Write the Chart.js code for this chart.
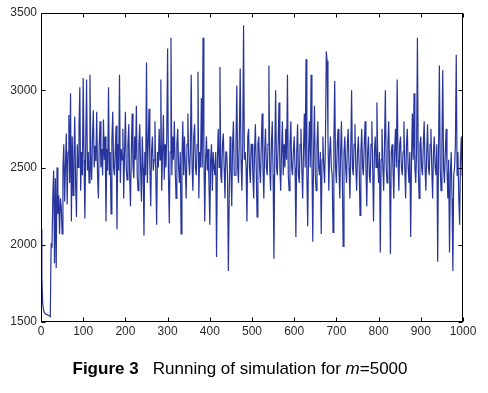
<!DOCTYPE html>
<html>
<head>
<meta charset="utf-8">
<script src="https://cdn.jsdelivr.net/npm/chart.js@4/dist/chart.umd.min.js"></script>
<style>
  html, body { margin: 0; padding: 0; background: #fff; }
  #wrap { position: relative; width: 488px; height: 393px; }
  #c { position: absolute; left: 0; top: 0; }
  #cap { position: absolute; left: -4px; top: 359px; width: 488px; text-align: center;
         font-family: 'Liberation Sans', Arial, sans-serif; font-size: 17px; line-height: 20px; color: #000; white-space: pre; }
</style>
</head>
<body>
<div id="wrap">
  <canvas id="c" width="488" height="393"></canvas>
  <div id="cap"><b>Figure 3</b>   Running of simulation for <i>m</i>=5000</div>
</div>
<script>
// Spacing (iterations) between the samples
const STEP = 2;
// Simulation values, x = 0, 2, 4, ... 1000 (each row = 20 iterations)
const values = [
  2100,1800,1620,1580,1560,1555,1550,1548,1545,1542,
  1540,1535,2010,1980,2320,2480,1880,2430,1850,2500,
  2200,2320,2070,2300,2250,2070,2500,2650,2280,2520,
  2720,2260,2600,2840,2400,2980,2150,2700,2320,2560,
  2830,2400,2180,2650,2500,2760,3020,2350,2600,2450,
  3080,2550,2170,2650,3070,2480,2600,2400,3100,2550,
  2420,2700,2870,2500,2640,2540,2860,2450,2300,2650,
  2800,2500,2620,2450,2810,2550,2700,2150,2620,2480,
  3020,2450,2600,2200,2680,2860,2500,2450,2620,2770,
  2100,2650,2480,3100,2400,2620,2550,2750,2300,2600,
  2860,2500,2420,2650,2780,2450,2250,2600,2850,2500,
  2430,2700,2550,2900,2450,2350,2650,2780,2500,2280,
  2700,2500,2060,2600,2450,3180,2400,2650,2880,2500,
  2250,2600,2700,2480,2550,2800,2450,2130,2600,2500,
  2750,2550,3070,2350,2600,2840,2420,2650,2500,2700,
  3270,2450,2140,2600,3340,2450,2700,2550,2800,2500,
  2300,2650,2750,2500,2400,2600,2070,2550,2800,2450,
  2700,2500,2300,2650,2850,2550,2450,2620,3100,2500,
  2350,2700,2780,2500,2450,2650,3120,2300,2600,2500,
  2950,2500,3340,2600,2150,2550,2700,2480,2620,2400,
  2130,2550,2650,2350,2600,2500,2450,2600,1920,2550,
  2750,2500,3150,2450,2400,2650,2720,2500,2300,2600,
  2600,2450,1830,2300,2700,2500,2250,2650,2800,2450,
  2450,2650,3030,2500,2400,2700,3140,2550,2350,2650,
  3420,2550,2600,2500,2150,2700,2750,2500,2400,2650,
  2650,2450,2300,2600,2780,2500,2180,2650,2700,2500,
  2400,2650,2850,2500,2300,2600,2750,2500,2450,2650,
  3160,2500,2350,2650,2800,2450,1910,2600,3000,2500,
  2450,2650,2920,2500,2350,2600,2800,2450,2650,2500,
  2750,2550,3100,2450,2350,2650,2800,2500,2450,2600,
  2700,2500,2050,2600,2780,2450,2400,2650,2750,2500,
  2300,2600,2850,2500,3200,2450,2120,2600,2800,2500,
  3100,2550,2020,2600,2900,2450,2350,2650,2800,2500,
  2450,2600,2070,2550,2700,2500,2400,2650,3250,3190,
  2700,2350,2600,2700,2500,2450,2080,2650,3060,2500,
  2400,2650,2750,2500,2300,2600,2800,2450,1990,2600,
  2700,2500,2400,2650,2750,2500,2300,2600,3000,2500,
  2450,2650,2780,2500,2350,2600,2700,2500,2190,2600,
  2750,2500,2450,2650,2800,2500,2250,2600,2700,2450,
  2400,2650,2800,2500,2150,2600,2700,2500,2920,2550,
  2400,2600,1950,2550,2750,2500,2350,2650,3000,2500,
  2400,2650,2800,2500,1940,2600,2650,2500,2300,2600,
  2750,2500,3070,2550,2350,2650,2700,2500,2450,2600,
  2800,2500,2300,2650,2750,2500,2400,2600,2050,2550,
  2850,2550,2980,2500,2400,2600,3340,2500,2300,2650,
  2700,2500,2450,2650,2800,2500,2350,2600,2780,2500,
  2450,2650,2750,2500,2300,2600,2700,2500,2450,2650,
  1890,2600,3160,2500,2350,2650,3130,2500,2400,2600,
  2750,2500,2300,2550,1950,2450,2600,2300,1830,2450,
  2500,2650,3230,2450,2600,2300,2130,2550,2700,2450,
  2450
];
const xTicks = [0, 100, 200, 300, 400, 500, 600, 700, 800, 900, 1000];
const yTicks = [1500, 2000, 2500, 3000, 3500];

const points = values.map((v, i) => ({ x: i * STEP, y: v }));

const frameTicks = {
  id: 'frameTicks',
  afterDatasetsDraw(chart) {
    const { ctx, chartArea: a, scales: { x, y } } = chart;
    const L = Math.round(a.left) + 0.5, R = Math.round(a.right) - 0.5;
    const T = Math.round(a.top) + 0.5, B = Math.round(a.bottom) - 0.5;
    ctx.save();
    ctx.strokeStyle = '#000';
    ctx.lineWidth = 1;
    ctx.lineCap = 'square';
    const seg = (x1, y1, x2, y2) => { ctx.beginPath(); ctx.moveTo(x1, y1); ctx.lineTo(x2, y2); ctx.stroke(); };
    seg(L, T, R, T);
    seg(R, T, R, B);
    seg(R, B, L, B);
    seg(L, B, L, T);
    const len = 4;
    ctx.lineCap = 'butt';
    xTicks.forEach(v => {
      const px = Math.round(x.getPixelForValue(v)) + 0.5;
      seg(px, B, px, B - len);
      seg(px, T, px, T + len);
    });
    yTicks.forEach(v => {
      const py = Math.round(y.getPixelForValue(v)) + 0.5;
      seg(L, py, L + len, py);
      seg(R, py, R - len, py);
    });
    ctx.restore();
  }
};

const font = { family: "'Liberation Sans', Arial, sans-serif", size: 12 };

new Chart(document.getElementById('c'), {
  type: 'line',
  data: {
    datasets: [{
      data: points,
      borderColor: '#27359c',
      borderWidth: 1.2,
      pointRadius: 0,
      tension: 0,
      fill: false
    }]
  },
  options: {
    responsive: false,
    animation: false,
    events: [],
    layout: { padding: { left: 0, right: 25, top: 13, bottom: 0 } },
    plugins: { legend: { display: false }, tooltip: { enabled: false } },
    scales: {
      x: {
        type: 'linear', min: 0, max: 1000,
        afterBuildTicks(s) { s.ticks = xTicks.map(v => ({ value: v })); },
        ticks: { font, color: '#2a2a2a', padding: 2, maxRotation: 0, callback: v => String(v) },
        grid: { display: false, drawTicks: false },
        border: { display: false },
        afterFit(s) { s.height = 71; }
      },
      y: {
        type: 'linear', min: 1500, max: 3500,
        afterBuildTicks(s) { s.ticks = yTicks.map(v => ({ value: v })); },
        ticks: { font, color: '#2a2a2a', padding: 4, callback: v => String(v) },
        grid: { display: false, drawTicks: false },
        border: { display: false },
        afterFit(s) { s.width = 41; }
      }
    }
  },
  plugins: [frameTicks]
});
</script>
</body>
</html>
